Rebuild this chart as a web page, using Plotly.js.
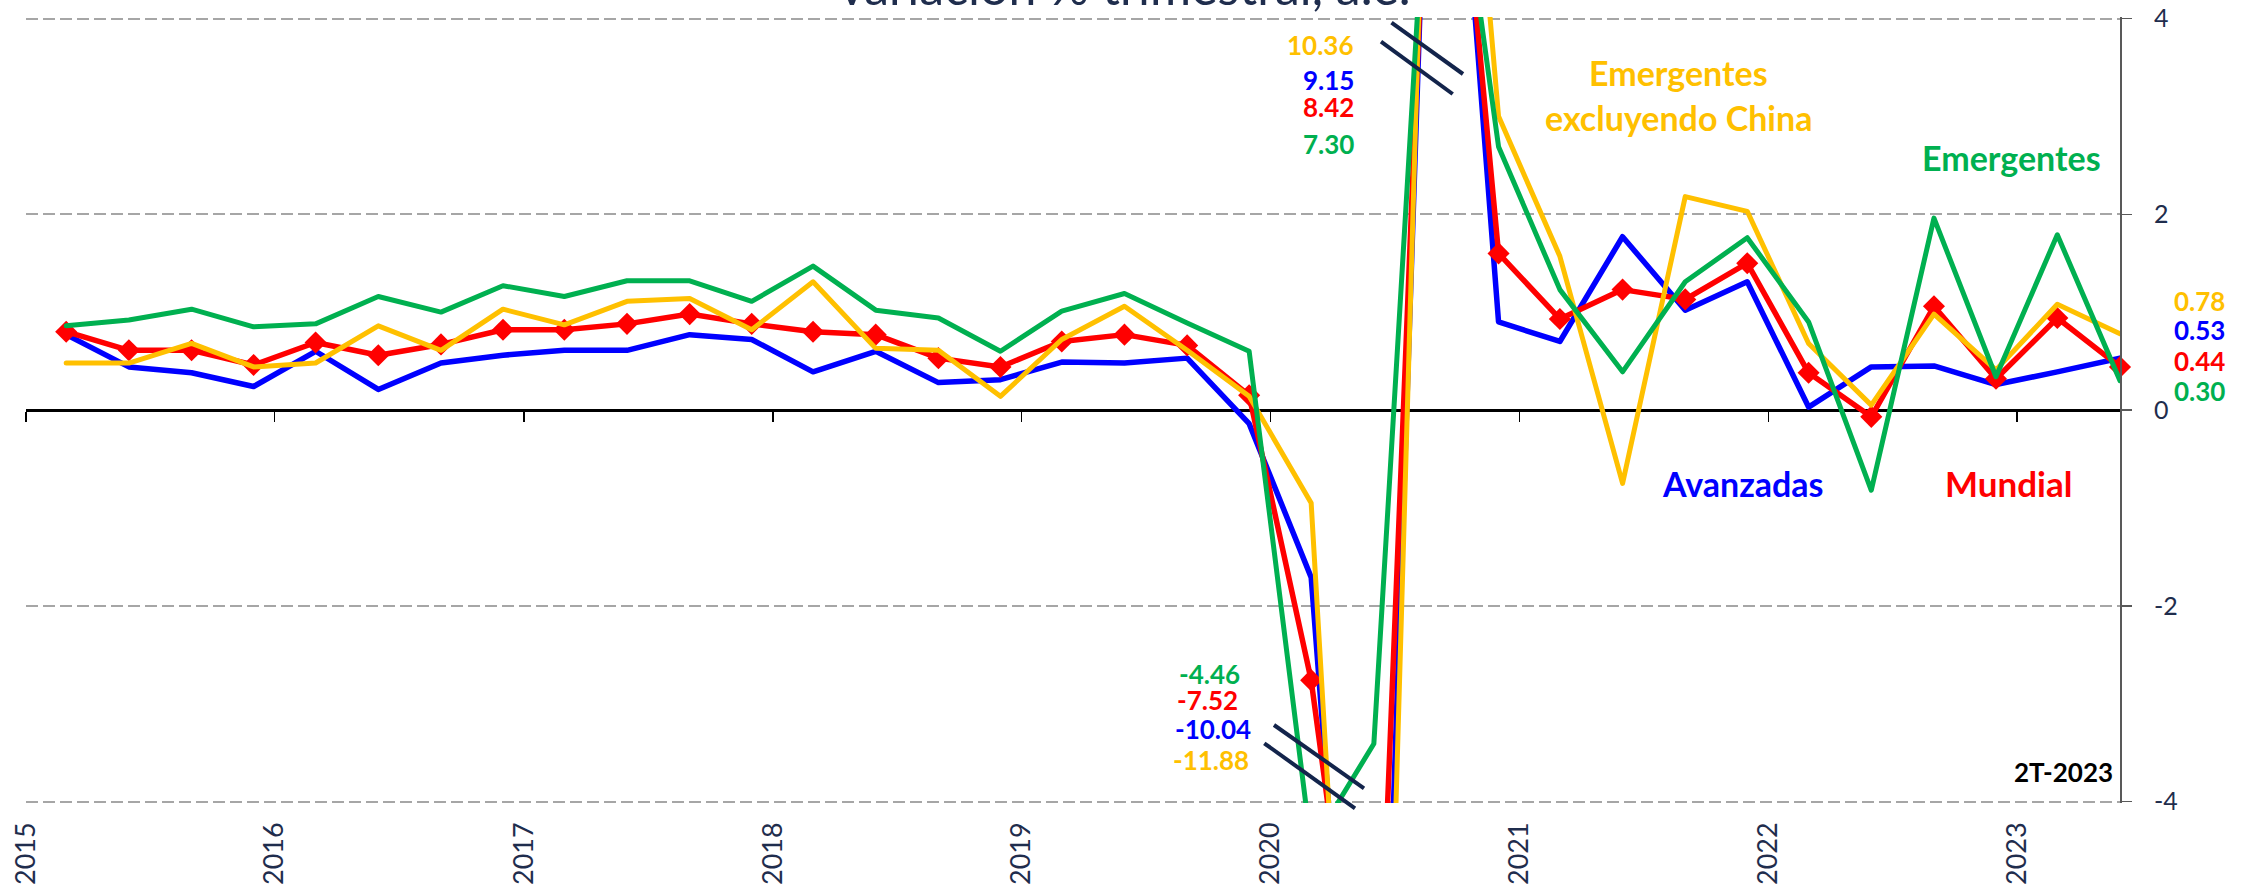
<!DOCTYPE html>
<html>
<head>
<meta charset="utf-8">
<script src="https://cdn.plot.ly/plotly-3.0.1.min.js"></script>
<style>
html,body{margin:0;padding:0;background:#fff;overflow:hidden;}
#chart{width:2247px;height:891px;}
.scatterlayer .js-line{stroke-linecap:round;stroke-linejoin:round;}
</style>
</head>
<body>
<div id="chart"></div>
<script>
// Quarters 1T-2015 .. 2T-2023 (plotted at the first day of the quarter's last month)
const quarters = [
 '2015-03-01','2015-06-01','2015-09-01','2015-12-01',
 '2016-03-01','2016-06-01','2016-09-01','2016-12-01',
 '2017-03-01','2017-06-01','2017-09-01','2017-12-01',
 '2018-03-01','2018-06-01','2018-09-01','2018-12-01',
 '2019-03-01','2019-06-01','2019-09-01','2019-12-01',
 '2020-03-01','2020-06-01','2020-09-01','2020-12-01',
 '2021-03-01','2021-06-01','2021-09-01','2021-12-01',
 '2022-03-01','2022-06-01','2022-09-01','2022-12-01',
 '2023-03-01','2023-06-01'
];
const avanzadas = [0.77,0.44,0.38,0.24, 0.60,0.21,0.48,0.56, 0.61,0.61,0.77,0.72, 0.39,0.60,0.28,0.31,
  0.49,0.48,0.53,-0.14, -1.71,-10.04,9.15,0.90, 0.70,1.77,1.02,1.31, 0.03,0.44,0.45,0.26, 0.39,0.53];
const mundial = [0.80,0.61,0.61,0.46, 0.69,0.56,0.67,0.82, 0.82,0.88,0.98,0.88, 0.80,0.77,0.53,0.44,
  0.70,0.77,0.66,0.15, -2.76,-7.52,8.42,1.60, 0.93,1.23,1.13,1.50, 0.38,-0.07,1.06,0.32, 0.94,0.44];
const emergentes = [0.86,0.92,1.03,0.85, 0.88,1.16,1.00,1.27, 1.16,1.32,1.32,1.11, 1.47,1.02,0.94,0.60,
  1.01,1.19,0.89,0.60, -4.46,-3.41,7.30,2.69, 1.23,0.39,1.31,1.76, 0.90,-0.82,1.96,0.34, 1.79,0.30];
const emergentesExChina = [0.48,0.48,0.68,0.44, 0.48,0.86,0.61,1.03, 0.87,1.11,1.14,0.82, 1.31,0.63,0.61,0.14,
  0.72,1.06,0.61,0.14, -0.95,-11.88,10.36,3.00, 1.57,-0.75,2.18,2.03, 0.68,0.05,0.98,0.41, 1.08,0.78];
const yTicks = [-4,-2,0,2,4];
const yTickLabels = ['-4','-2','0','2','4'];
const yearTicks = ['2015-01-01','2016-01-01','2017-01-01','2018-01-01','2019-01-01','2020-01-01','2021-01-01','2022-01-01','2023-01-01'];
const yearLabels = ['2015','2016','2017','2018','2019','2020','2021','2022','2023'];

const BLUE='#0000ff', RED='#ff0000', GREEN='#00b050', YELLOW='#ffc000', NAVY='#1f2d4d', MARK='#13244b';

// plot area in pixels (range padded slightly so the ±4 gridlines are drawn)
const L=26, R=2120, T=17, B=803, W=2247, H=891;
const YMAX = 4.0153;
const px = x => (x-L)/(R-L);
const py = y => (B-y)/(B-T);

const traces = [
 {x:quarters, y:avanzadas, type:'scatter', mode:'lines', line:{color:BLUE,width:5.5}, hoverinfo:'skip'},
 {x:quarters, y:mundial, type:'scatter', mode:'lines+markers', line:{color:RED,width:5.5},
  marker:{symbol:'diamond',size:17,color:RED}, cliponaxis:false, hoverinfo:'skip'},
 {x:quarters, y:emergentesExChina, type:'scatter', mode:'lines', line:{color:YELLOW,width:5}, hoverinfo:'skip'},
 {x:quarters, y:emergentes, type:'scatter', mode:'lines', line:{color:GREEN,width:5}, hoverinfo:'skip'},
 {x:[quarters[0]], y:[null], xaxis:'x2', type:'scatter', mode:'lines', hoverinfo:'skip', showlegend:false}
];

function ann(text, x, y, color, size, xanchor, yanchor, bold){
  return {text: bold===false ? text : '<b>'+text+'</b>', x:px(x), y:py(y), xref:'paper', yref:'paper',
    xanchor:xanchor||'center', yanchor:yanchor||'middle', showarrow:false,
    font:{family:'Lato, sans-serif', size:size, color:color}, align:'center'};
}

const annotations = [
 ann('variación % trimestral, a.e.', 1125, 18, NAVY, 50, 'center', 'bottom', false),
 ann('10.36', 1356, 45.5, YELLOW, 26, 'right'),
 ann('9.15', 1356, 80.5, BLUE, 26, 'right'),
 ann('8.42', 1356, 107, RED, 26, 'right'),
 ann('7.30', 1356, 144, GREEN, 26, 'right'),
 ann('-4.46', 1209, 674, GREEN, 26),
 ann('-7.52', 1207.5, 700, RED, 26),
 ann('-10.04', 1213, 728.5, BLUE, 26),
 ann('-11.88', 1210.5, 759.5, YELLOW, 26),
 ann('Emergentes', 1678, 72.5, YELLOW, 34),
 ann('excluyendo China', 1678, 117, YELLOW, 34),
 ann('Emergentes', 2011, 157, GREEN, 34),
 ann('Avanzadas', 1743, 483, BLUE, 34),
 ann('Mundial', 2008, 483, RED, 35),
 ann('2T-2023', 2115, 772, '#000000', 26, 'right'),
 ann('0.78', 2199, 301, YELLOW, 26),
 ann('0.53', 2199, 330, BLUE, 26),
 ann('0.44', 2199, 361, RED, 26),
 ann('0.30', 2199, 391, GREEN, 26)
];

function seg(x0,y0,x1,y1){
  return {type:'line', xref:'paper', yref:'paper', x0:px(x0), y0:py(y0), x1:px(x1), y1:py(y1),
    line:{color:MARK, width:4}, layer:'above'};
}
const shapes = [
 seg(1391.5,22.7,1463,74), seg(1381,41.7,1452.7,94),
 seg(1274,725,1364,788.3), seg(1264.3,743.3,1355,808.3)
];

const layout = {
  width:W, height:H, showlegend:false,
  margin:{l:L, r:W-R, t:T, b:H-B, pad:0},
  paper_bgcolor:'#ffffff', plot_bgcolor:'#ffffff',
  font:{family:'Lato, sans-serif', color:NAVY},
  xaxis:{type:'date', range:['2015-01-01','2023-06-01'], tickmode:'array', tickvals:yearTicks, ticktext:yearLabels,
    tickangle:-90, ticks:'', showgrid:false, zeroline:false, showline:false,
    tickfont:{family:'Lato, sans-serif', size:27, color:NAVY}, ticklabelstandoff:13, fixedrange:true},
  xaxis2:{type:'date', matches:'x', overlaying:'x', anchor:'free', position:0.5, side:'bottom',
    tickmode:'array', tickvals:yearTicks, showticklabels:false, ticks:'outside', ticklen:10, tickwidth:1.5,
    tickcolor:'#000000', showline:true, linecolor:'#000000', linewidth:1.7, showgrid:false, zeroline:false,
    layer:'below traces', fixedrange:true},
  yaxis:{range:[-YMAX,YMAX], side:'right', tickmode:'array', tickvals:yTicks, ticktext:yTickLabels,
    showline:true, linecolor:'#595959', linewidth:2, ticks:'outside', ticklen:10, tickwidth:1.5, tickcolor:'#595959',
    showgrid:true, gridcolor:'#a6a6a6', gridwidth:2, griddash:'12px,5px',
    zeroline:true, zerolinecolor:'#000000', zerolinewidth:1.7,
    tickfont:{family:'Lato, sans-serif', size:25, color:NAVY}, ticklabelstandoff:17, fixedrange:true},
  annotations:annotations, shapes:shapes
};

Plotly.newPlot('chart', traces, layout, {displayModeBar:false, staticPlot:true});
</script>
</body>
</html>
